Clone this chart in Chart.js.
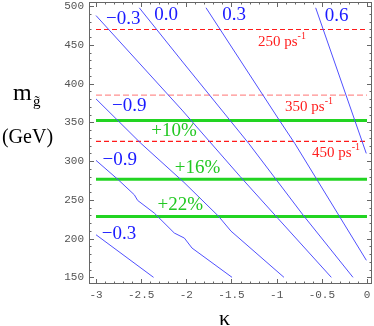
<!DOCTYPE html>
<html>
<head>
<meta charset="utf-8">
<script src="https://cdn.jsdelivr.net/npm/chart.js@4.4.0/dist/chart.umd.min.js"></script>
<style>
  html, body { margin: 0; padding: 0; background: #fff; }
</style>
</head>
<body>
<canvas id="chart" width="374" height="326"></canvas>
<script>
// contour lines of the asymmetry, [kappa, m_gluino]
const contourM03Upper = [[-3, 488], [-2.048, 366], [-1.403, 280], [-0.985, 226], [-0.395, 150]];
const contour00 = [[-2.521, 498], [-2.040, 428], [-1.310, 323], [-0.708, 230.5], [-0.155, 150]];
const contour03 = [[-1.782, 498], [-0.977, 354], [-0.800, 323], [-0.007, 172]];
const contour06 = [[-0.568, 498], [-0.008, 310]];
const contourM09Upper = [[-3, 380.4], [-2.502, 322.9], [-2.026, 272.6], [-1.642, 228.7], [-1.506, 209.7], [-0.919, 150]];
const contourM09Lower = [[-3, 301], [-2.753, 275.9], [-2.576, 256.6], [-2.539, 249.3], [-2.355, 233], [-2.133, 207.2], [-2.022, 200.7], [-1.937, 187.8], [-1.494, 150]];
const contourM03Lower = [[-3, 205], [-2.363, 150]];

// horizontal levels
const kappaRange = [-3, 0];
const greenLevels = [352.6, 276.8, 228.4];
const redLevels = [470, 325.5];
const pinkLevels = [385.2];

// text labels, anchored in data units
const blueLabels = [
  ['\u22120.3', -2.698, 483.3], ['0.0', -2.225, 489.3], ['0.3', -1.472, 489.3], ['0.6', -0.335, 488],
  ['\u22120.9', -2.631, 371], ['\u22120.9', -2.738, 301.7], ['\u22120.3', -2.745, 205.9]
];
const greenLabels = [['+10%', -2.137, 339.1], ['+16%', -1.876, 291], ['+22%', -2.067, 243.7]];
const redLabels = [['250 ps', -0.941, 453.2], ['350 ps', -0.642, 369.7], ['450 ps', -0.343, 310.4]];

const xTicks = [-3, -2.5, -2, -1.5, -1, -0.5, 0];
const xTickLabels = ['-3', '-2.5', '-2', '-1.5', '-1', '-0.5', '0'];
const yTicks = [150, 200, 250, 300, 350, 400, 450, 500];

const toPts = arr => arr.map(p => ({ x: p[0], y: p[1] }));
const hLine = y => kappaRange.map(x => ({ x, y }));

const datasets = [];
[contourM03Upper, contour00, contour03, contour06, contourM09Upper, contourM09Lower, contourM03Lower].forEach(c => {
  datasets.push({ data: toPts(c), borderColor: 'rgb(80,80,255)', borderWidth: 1, pointRadius: 0, showLine: true, tension: 0 });
});
greenLevels.forEach(y => {
  datasets.push({ data: hLine(y), borderColor: '#22d422', borderWidth: 3, pointRadius: 0, showLine: true });
});
redLevels.forEach(y => {
  datasets.push({ data: hLine(y), borderColor: '#ff1a1a', borderWidth: 1.2, borderDash: [5, 3], pointRadius: 0, showLine: true });
});
pinkLevels.forEach(y => {
  datasets.push({ data: hLine(y), borderColor: '#ff9090', borderWidth: 1.2, borderDash: [6, 3], pointRadius: 0, showLine: true });
});

const noPad = s => { s.paddingTop = 0; s.paddingBottom = 0; s.paddingLeft = 0; s.paddingRight = 0; };

const overlay = {
  id: 'overlay',
  afterDatasetsDraw(chart) {
    const ctx = chart.ctx;
    const a = chart.chartArea;
    const sx = chart.scales.x, sy = chart.scales.y;
    ctx.save();

    // frame
    ctx.strokeStyle = '#666';
    ctx.lineWidth = 1;
    ctx.strokeRect(Math.round(a.left) + 0.5, Math.round(a.top) + 0.5, Math.round(a.right - a.left) - 1, Math.round(a.bottom - a.top) - 1);

    // inward ticks on all sides
    ctx.beginPath();
    for (let i = 0; i <= 30; i++) {
      const v = -3 + i * 0.1;
      const px = Math.round(sx.getPixelForValue(v)) + 0.5;
      const len = i % 5 === 0 ? 5 : 2.5;
      ctx.moveTo(px, a.bottom); ctx.lineTo(px, a.bottom - len);
      ctx.moveTo(px, a.top); ctx.lineTo(px, a.top + len);
    }
    for (let v = 150; v <= 500; v += 10) {
      const py = Math.round(sy.getPixelForValue(v)) + 0.5;
      const len = v % 50 === 0 ? 5 : 2.5;
      ctx.moveTo(a.left, py); ctx.lineTo(a.left + len, py);
      ctx.moveTo(a.right, py); ctx.lineTo(a.right - len, py);
    }
    ctx.stroke();

    ctx.textAlign = 'center';
    ctx.textBaseline = 'middle';
    ctx.font = '19px "Liberation Serif"';
    ctx.fillStyle = '#1a1aff';
    blueLabels.forEach(l => ctx.fillText(l[0], sx.getPixelForValue(l[1]), sy.getPixelForValue(l[2])));
    ctx.fillStyle = '#22c822';
    greenLabels.forEach(l => ctx.fillText(l[0], sx.getPixelForValue(l[1]), sy.getPixelForValue(l[2])));

    // red labels with superscript -1
    ctx.fillStyle = '#ff2020';
    ctx.textAlign = 'left';
    redLabels.forEach(l => {
      ctx.font = '15px "Liberation Serif"';
      const w1 = ctx.measureText(l[0]).width;
      ctx.font = '10px "Liberation Serif"';
      const w2 = ctx.measureText('-1').width;
      const x0 = sx.getPixelForValue(l[1]) - (w1 + w2) / 2;
      const y0 = sy.getPixelForValue(l[2]);
      ctx.font = '15px "Liberation Serif"';
      ctx.fillText(l[0], x0, y0);
      ctx.font = '10px "Liberation Serif"';
      ctx.fillText('-1', x0 + w1, y0 - 6);
    });

    // axis titles
    ctx.fillStyle = '#000';
    ctx.textBaseline = 'alphabetic';
    ctx.textAlign = 'left';
    ctx.font = '24px "Liberation Serif"';
    ctx.fillText('m', 13, 100);
    ctx.font = '15px "Liberation Serif"';
    ctx.fillText('g\u0303', 33, 106);
    ctx.textAlign = 'center';
    ctx.font = '20px "Liberation Serif"';
    ctx.fillText('(GeV)', 27.5, 143);
    ctx.font = '22px "Liberation Serif"';
    ctx.fillText('\u03ba', 224.5, 324.5);
    ctx.restore();
  }
};

new Chart(document.getElementById('chart'), {
  type: 'scatter',
  data: { datasets },
  plugins: [overlay],
  options: {
    responsive: false,
    animation: false,
    layout: { padding: { top: 2, right: 2, left: 0, bottom: 0 } },
    plugins: { legend: { display: false }, tooltip: { enabled: false } },
    scales: {
      x: {
        type: 'linear', min: -3.0775, max: 0.0554,
        grid: { display: false, drawTicks: false }, border: { display: false },
        afterBuildTicks: s => { s.ticks = xTicks.map(v => ({ value: v })); },
        afterFit: s => { s.height = 42; noPad(s); },
        ticks: {
          padding: 4, color: '#555', maxRotation: 0, autoSkip: false,
          font: { family: '"Liberation Mono"', size: 11 },
          callback: (v, i) => xTickLabels[i]
        }
      },
      y: {
        type: 'linear', min: 141.4, max: 505.5,
        grid: { display: false, drawTicks: false }, border: { display: false },
        afterBuildTicks: s => { s.ticks = yTicks.map(v => ({ value: v })); },
        afterFit: s => { s.width = 89; noPad(s); },
        ticks: {
          padding: 5, color: '#555',
          font: { family: '"Liberation Mono"', size: 11 },
          callback: v => String(v)
        }
      }
    }
  }
});
</script>
</body>
</html>
